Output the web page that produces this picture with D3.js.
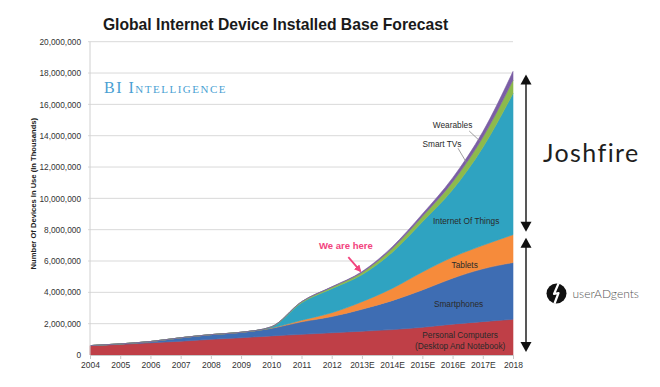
<!DOCTYPE html>
<html>
<head>
<meta charset="utf-8">
<script src="https://cdn.jsdelivr.net/npm/d3@7"></script>
<style>
  body { margin: 0; background: #fff; }
  svg { display: block; font-family: "Liberation Sans", Arial, sans-serif; }
</style>
</head>
<body>
<div id="chart"></div>
<script>
'use strict';

// years and the x tick labels
var years = [2004, 2005, 2006, 2007, 2008, 2009, 2010, 2011, 2012, 2013, 2014, 2015, 2016, 2017, 2018];
var yearLabels = ["2004", "2005", "2006", "2007", "2008", "2009", "2010", "2011", "2012",
                  "2013E", "2014E", "2015E", "2016E", "2017E", "2018"];

// installed base per category (in thousands)
var pcs         = [600000, 680000, 780000, 880000, 1000000, 1100000, 1220000, 1320000, 1420000, 1520000, 1620000, 1770000, 1970000, 2130000, 2280000];
var smartphones = [0, 30000, 80000, 220000, 300000, 350000, 480000, 800000, 1030000, 1400000, 1850000, 2380000, 2930000, 3370000, 3620000];
var tablets     = [0, 0, 0, 0, 0, 0, 20000, 100000, 250000, 480000, 780000, 1150000, 1350000, 1500000, 1780000];
var iot         = [0, 0, 0, 0, 0, 0, 60000, 1110000, 1530000, 1720000, 2300000, 3200000, 4300000, 6250000, 9020000];
var smartTVs    = [0, 0, 0, 0, 0, 0, 20000, 70000, 100000, 150000, 250000, 350000, 500000, 650000, 850000];
var wearables   = [0, 0, 0, 0, 0, 0, 0, 0, 20000, 50000, 100000, 150000, 250000, 350000, 550000];

var yTicks = [0, 2000000, 4000000, 6000000, 8000000, 10000000, 12000000, 14000000, 16000000, 18000000, 20000000];

var keys = ["pc", "phone", "tablet", "iot", "tv", "wear"];
var colors = {pc: "#bf3f47", phone: "#3e6db3", tablet: "#f68b3b", iot: "#2fa3c1", tv: "#8dba4c", wear: "#7b5ea5"};

var data = years.map(function(y, i) {
    return {year: y, pc: pcs[i], phone: smartphones[i], tablet: tablets[i],
            iot: iot[i], tv: smartTVs[i], wear: wearables[i]};
});

// set the dimensions and margins of the graph
var W = 660, H = 387;
var margin = {top: 41.7, right: 147, bottom: 32, left: 90},
    width  = W - margin.left - margin.right,
    height = H - margin.top  - margin.bottom;

var svg = d3.select("#chart").append("svg")
    .attr("width", W).attr("height", H);

var g = svg.append("g").attr("transform", "translate(" + margin.left + "," + margin.top + ")");

var x = d3.scaleLinear().domain([2004, 2018]).range([0, width]);
var y = d3.scaleLinear().domain([0, 20000000]).range([height, 0]);

// gridlines
g.append("g").selectAll("line").data(yTicks.slice(1)).join("line")
    .attr("x1", -2).attr("x2", width)
    .attr("y1", function(d) { return y(d); }).attr("y2", function(d) { return y(d); })
    .attr("stroke", "#d9d9d9").attr("stroke-width", 1);

// stacked areas
var series = d3.stack().keys(keys)(data);
var area = d3.area()
    .x(function(d) { return x(d.data.year); })
    .y0(function(d) { return y(d[0]); })
    .y1(function(d) { return y(d[1]); })
    .curve(d3.curveMonotoneX);

g.append("g").selectAll("path").data(series).join("path")
    .attr("fill", function(d) { return colors[d.key]; })
    .attr("stroke", function(d) { return colors[d.key]; })
    .attr("stroke-width", 0.6)
    .attr("d", area);

// axes
g.append("line").attr("x1", 0).attr("x2", 0).attr("y1", 0).attr("y2", height)
    .attr("stroke", "#d0d0d0");
var xAxis = g.append("g")
    .attr("transform", "translate(0," + height + ")")
    .call(d3.axisBottom(x).tickValues(years).tickSize(4).tickPadding(3)
        .tickFormat(function(d, i) { return yearLabels[i]; }));
xAxis.select(".domain").attr("stroke", "#c8c8c8");
xAxis.selectAll(".tick line").attr("stroke", "#c8c8c8");
xAxis.selectAll("text").attr("fill", "#333").style("font-size", "8.5px")
    .style("font-family", "'Liberation Sans', Arial, sans-serif");

var yAxis = g.append("g")
    .call(d3.axisLeft(y).tickValues(yTicks).tickSize(0).tickPadding(9)
        .tickFormat(d3.format(",")));
yAxis.select(".domain").remove();
yAxis.selectAll("text").attr("fill", "#333").style("font-size", "8.3px")
    .style("font-family", "'Liberation Sans', Arial, sans-serif");

// titles
svg.append("text")
    .attr("x", 275.5).attr("y", 30)
    .attr("text-anchor", "middle")
    .style("font-size", "15.7px").style("font-weight", "bold").attr("fill", "#1a1a1a")
    .text("Global Internet Device Installed Base Forecast");

svg.append("text")
    .attr("transform", "translate(36," + (margin.top + y(10300000)) + ") rotate(-90)")
    .attr("text-anchor", "middle")
    .style("font-size", "7.6px").style("font-weight", "bold").attr("fill", "#222")
    .text("Number Of Devices In Use (In Thousands)");

svg.append("text")
    .attr("x", margin.left + 14).attr("y", 93)
    .style("font-family", "'Liberation Serif', 'DejaVu Serif', serif")
    .style("font-size", "16px").style("font-variant", "small-caps")
    .style("letter-spacing", "1.5px")
    .attr("fill", "#4a9fd3")
    .text("BI Intelligence");

// in-chart labels
var labels = [
    {t: "Internet Of Things", yr: 2016.45, v: 8350000},
    {t: "Tablets", yr: 2016.4, v: 5550000},
    {t: "Smartphones", yr: 2016.2, v: 3060000},
    {t: "Personal Computers", yr: 2016.25, v: 1080000},
    {t: "(Desktop And Notebook)", yr: 2016.25, v: 380000},
    {t: "Wearables", yr: 2016.0, v: 14500000},
    {t: "Smart TVs", yr: 2015.65, v: 13280000}
];
g.append("g").selectAll("text").data(labels).join("text")
    .attr("x", function(d) { return x(d.yr); })
    .attr("y", function(d) { return y(d.v); })
    .attr("text-anchor", "middle")
    .style("font-size", "8.3px").attr("fill", "#2a2a2a")
    .text(function(d) { return d.t; });

// leader lines for Wearables and Smart TVs
var leaders = [
    {x1: 2016.55, v1: 14300000, x2: 2016.91, v2: 13650000},
    {x1: 2016.18, v1: 13200000, x2: 2016.47, v2: 12250000}
];
g.append("g").selectAll("line").data(leaders).join("line")
    .attr("x1", function(d) { return x(d.x1); }).attr("y1", function(d) { return y(d.v1); })
    .attr("x2", function(d) { return x(d.x2); }).attr("y2", function(d) { return y(d.v2); })
    .attr("stroke", "#888").attr("stroke-width", 0.8);

// "We are here" note
var pink = "#f2437d";
svg.append("defs").append("marker")
    .attr("id", "ah").attr("viewBox", "0 0 10 10").attr("refX", 8).attr("refY", 5)
    .attr("markerWidth", 4).attr("markerHeight", 4).attr("orient", "auto")
    .append("path").attr("d", "M0,0L10,5L0,10Z").attr("fill", pink);
g.append("text")
    .attr("x", x(2012.47)).attr("y", y(6750000))
    .attr("text-anchor", "middle")
    .style("font-size", "9.5px").style("font-weight", "bold").attr("fill", pink)
    .text("We are here");
g.append("line")
    .attr("x1", x(2012.55)).attr("y1", y(6250000))
    .attr("x2", x(2012.95)).attr("y2", y(5350000))
    .attr("stroke", pink).attr("stroke-width", 1.8)
    .attr("marker-end", "url(#ah)");

// right-hand brackets
var last = series.map(function(s) { return s[s.length - 1]; });
var topTotal = last[last.length - 1][1];
var tabletTop = last[2][1];
var arrowX = 526;
function bracket(v1, v2) {
    var ya = margin.top + y(v1) + 3, yb = margin.top + y(v2) - 3;
    var a = svg.append("g");
    a.append("line").attr("x1", arrowX).attr("x2", arrowX)
        .attr("y1", ya + 8).attr("y2", yb - 8)
        .attr("stroke", "#111").attr("stroke-width", 1.4);
    a.append("path")
        .attr("d", "M" + arrowX + "," + ya + "l-5.5,10h11z").attr("fill", "#111");
    a.append("path")
        .attr("d", "M" + arrowX + "," + yb + "l-5.5,-10h11z").attr("fill", "#111");
}
bracket(topTotal, tabletTop);
bracket(tabletTop, 0);

svg.append("text")
    .attr("x", 543).attr("y", 162)
    .style("font-family", "Lato, 'Open Sans', sans-serif")
    .style("font-size", "25px").style("font-weight", 400).style("letter-spacing", "1.4px")
    .attr("fill", "#1e1e1e")
    .text("Joshfire");

// userADgents logo
var logo = svg.append("g").attr("transform", "translate(556.5,293.5)");
logo.append("circle").attr("r", 10).attr("fill", "#111");
logo.append("path")
    .attr("d", "M2,-10 L-2.5,0.5 L2,-0.5 L-2,10")
    .attr("stroke", "#fff").attr("stroke-width", 2.2).attr("fill", "none")
    .attr("stroke-linejoin", "round");
svg.append("text")
    .attr("x", 572.5).attr("y", 297.5)
    .style("font-family", "Lato, 'Open Sans', sans-serif")
    .style("font-size", "12px").style("font-weight", 300)
    .attr("fill", "#555")
    .text("userADgents");
</script>
</body>
</html>
